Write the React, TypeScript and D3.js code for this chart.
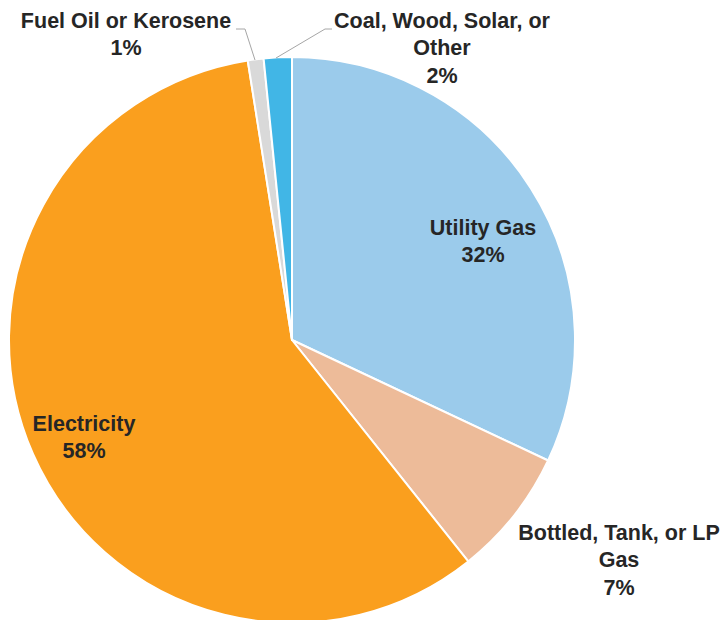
import React from "react";
import * as d3 from "d3";

const categories = ["Utility Gas", "Bottled, Tank, or LP Gas", "Electricity", "Fuel Oil or Kerosene", "Coal, Wood, Solar, or Other"];
const values = [32.0, 7.3, 58.2, 0.9, 1.6];
const pctLabels = ["32%", "7%", "58%", "1%", "2%"];
const colors = ["#9BCBEB", "#EDBB99", "#FA9F1E", "#D9D9D9", "#41B6E6"];
const labelLines = [["Utility Gas"], ["Bottled, Tank, or LP", "Gas"], ["Electricity"], ["Fuel Oil or Kerosene"], ["Coal, Wood, Solar, or", "Other"]];
const labelPos: [number, number][] = [[483, 227], [619, 532], [84, 423], [126, 20], [442, 20]];

export default function App() {
  const W = 728, H = 620;
  const cx = 292, cy = 340, r = 283;
  const pie = d3.pie<number>().sort(null).value((d) => d)(values);
  const arc = d3.arc<d3.PieArcDatum<number>>().innerRadius(0).outerRadius(r);
  const lh = 27.5;
  const leaders: [number, number][][] = [
    [],
    [],
    [],
    [[255, 60], [245, 29], [236, 29]],
    [[276, 58], [325, 29], [332, 29]],
  ];
  return (
    <svg width={W} height={H} style={{ position: "absolute", left: 0, top: 0 }}>
      <rect width={W} height={H} fill="#fff" />
      <g transform={`translate(${cx},${cy})`}>
        {pie.map((p, i) => (
          <path key={i} d={arc(p) || ""} fill={colors[i]} stroke="#fff" strokeWidth={2} strokeLinejoin="round" />
        ))}
      </g>
      {leaders.map((pts, i) =>
        pts.length ? (
          <polyline key={i} points={pts.map((p) => p.join(",")).join(" ")} fill="none" stroke="#A6A6A6" strokeWidth={1} />
        ) : null
      )}
      {labelLines.map((lines, i) => {
        const [x, y] = labelPos[i];
        const all = [...lines, pctLabels[i]];
        return (
          <text key={i} x={x} y={y} textAnchor="middle" fontFamily="'Liberation Sans', Arial, sans-serif" fontWeight="bold" fontSize={21.5} fill="#262626">
            {all.map((t, j) => (
              <tspan key={j} x={x} y={y + j * lh} dy="0.35em">{t}</tspan>
            ))}
          </text>
        );
      })}
    </svg>
  );
}
